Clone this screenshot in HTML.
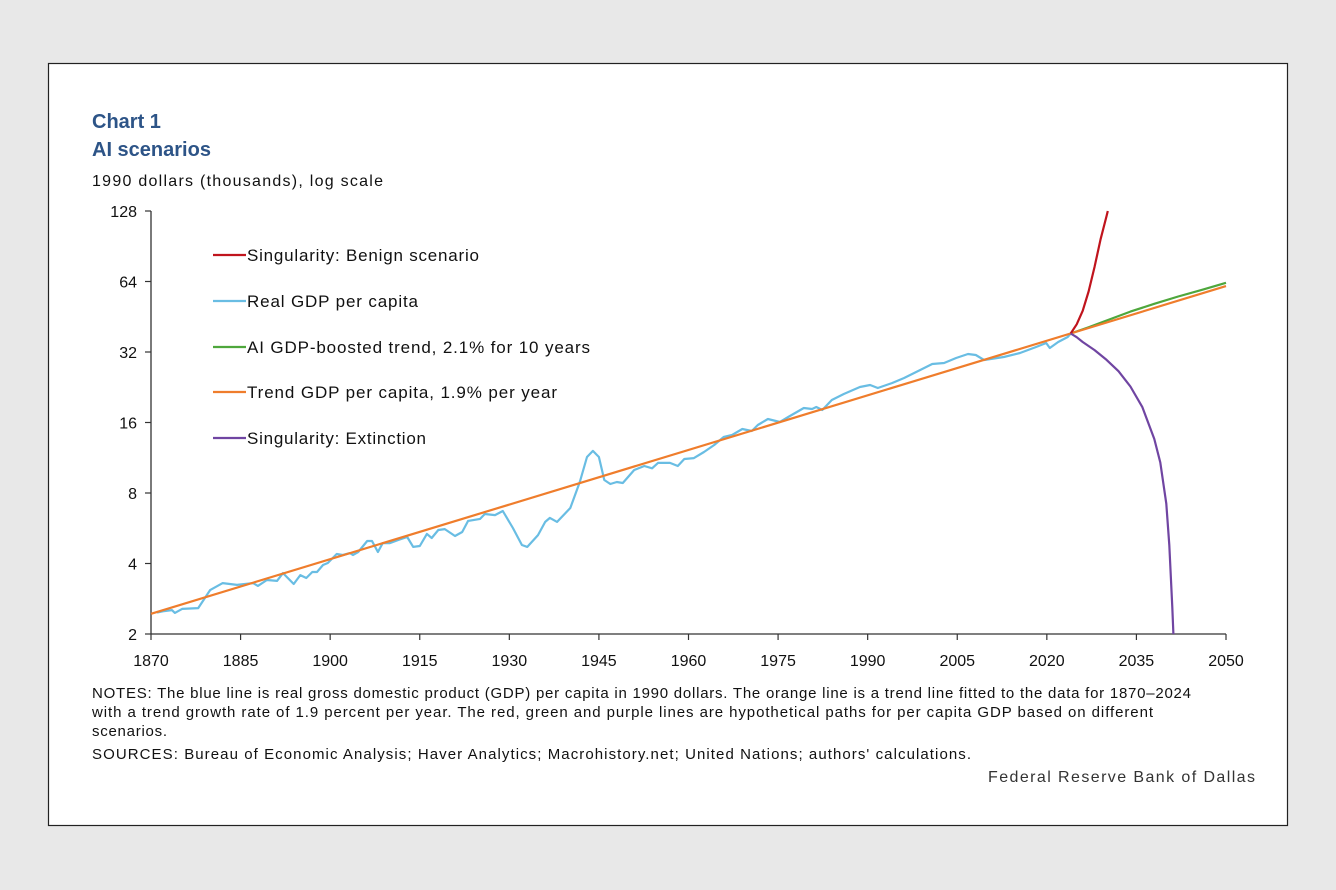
<!DOCTYPE html>
<html><head><meta charset="utf-8"><style>
html,body{margin:0;padding:0;background:#e8e8e8;}
svg{display:block;font-family:"Liberation Sans",Arial,sans-serif;}
</style></head><body>
<svg id="c" width="1336" height="890" viewBox="0 0 1336 890">
<rect x="0" y="0" width="1336" height="890" fill="#e8e8e8"/>
<rect x="48.5" y="63.5" width="1239" height="762" fill="#fff" stroke="#222" stroke-width="1.2"/>
<text x="92" y="128" font-size="20" font-weight="bold" fill="#2d5487">Chart 1</text>
<text x="92" y="156" font-size="20" font-weight="bold" fill="#2d5487">AI scenarios</text>
<text x="92" y="186" font-size="16" fill="#111" textLength="291" lengthAdjust="spacing">1990 dollars (thousands),  log scale</text>
<g id="plot"></g>
<g id="legend"></g>
<g font-size="15" fill="#111">
<text x="92" y="698" textLength="1099" lengthAdjust="spacing">NOTES: The blue line is real gross domestic product (GDP) per capita in 1990 dollars. The orange line is a trend line fitted to the data for 1870–2024</text>
<text x="92" y="717" textLength="1061" lengthAdjust="spacing">with a trend growth rate of 1.9 percent per year. The red, green and purple lines are hypothetical paths for per capita GDP based on different</text>
<text x="92" y="736" textLength="75" lengthAdjust="spacing">scenarios.</text>
<text x="92" y="759" textLength="879" lengthAdjust="spacing">SOURCES: Bureau of Economic Analysis; Haver Analytics; Macrohistory.net; United Nations; authors' calculations.</text>
</g>
<text x="988" y="782" font-size="16" fill="#333" textLength="267" lengthAdjust="spacing">Federal Reserve Bank of Dallas</text>
</svg>
<script>
const xTicks=[1870,1885,1900,1915,1930,1945,1960,1975,1990,2005,2020,2035,2050];
const yTicks=[2,4,8,16,32,64,128];
const gdpYears=[1871,1872,1873.5,1874,1875.2,1877.9,1879.9,1882,1884.4,1887.1,1887.9,1889.4,1891.1,1892.1,1893.9,1895,1896,1897,1897.8,1898.8,1899.6,1901.1,1902.1,1903.3,1903.8,1904.7,1906.2,1907,1908,1908.8,1910,1911.4,1912.9,1913.9,1915,1916.2,1917,1918.1,1919.2,1920.9,1922.1,1923.1,1925.1,1925.9,1927.6,1928.9,1930.6,1932.1,1933,1934.8,1936,1936.8,1938,1940.2,1941.8,1943,1944,1945,1945.9,1946.9,1948,1949,1950.9,1952.6,1953.9,1954.9,1956.9,1958.2,1959.3,1960.9,1962.6,1964.3,1965.9,1967.3,1969,1970.6,1971.6,1973.3,1975.3,1976.7,1979.3,1980.7,1981.4,1982.4,1984,1986,1988.7,1990.4,1991.7,1994.1,1996.1,1998.8,2000.8,2002.8,2004.8,2006.8,2008.1,2009.5,2012.8,2015.5,2018.2,2019.9,2020.5,2021.9,2023.5,2024];
const gdpValues=[2.47,2.5,2.53,2.46,2.56,2.58,3.08,3.30,3.24,3.30,3.21,3.40,3.37,3.64,3.27,3.57,3.47,3.68,3.68,3.94,4.02,4.39,4.35,4.43,4.35,4.48,4.99,4.99,4.48,4.89,4.89,5.04,5.19,4.71,4.75,5.35,5.14,5.56,5.61,5.24,5.45,6.08,6.20,6.51,6.44,6.70,5.67,4.80,4.71,5.29,6.02,6.26,6.02,6.90,8.91,11.4,12.1,11.4,9.09,8.74,8.91,8.83,10.03,10.43,10.2,10.75,10.75,10.43,11.18,11.28,11.97,12.83,13.87,14.15,15.01,14.72,15.61,16.56,16.08,16.89,18.45,18.27,18.63,18.09,19.96,21.17,22.69,23.13,22.46,23.59,24.78,26.81,28.44,28.72,30.17,31.38,31.07,29.58,30.47,31.69,33.62,34.97,33.29,35.31,37.09,38.4];
const trendYears=[1870,2050];
const trendValues=[2.44,61.2];
const aiYears=[2024,2027,2030,2034,2038,2042,2046,2050];
const aiValues=[38.4,40.8,43.6,47.6,51.4,55.2,59.0,63.2];
const benignYears=[2024,2025,2026,2027,2028,2029,2030,2030.2];
const benignValues=[38.4,42,48,58,74,97,122,128];
const extinctYears=[2024,2025,2026,2028,2030,2032,2034,2036,2038,2039,2040,2040.5,2041,2041.2];
const extinctValues=[38.4,37,35.3,32.6,29.6,26.5,22.8,18.6,13.6,10.8,7.2,4.8,2.6,2];

const NS='http://www.w3.org/2000/svg';
const X0=151,X1=1226,Y0=634,Y1=211;
function xs(yr){return X0+(yr-1870)/(2050-1870)*(X1-X0);}
function ys(v){return Y0-(Math.log2(v)-1)/6*(Y0-Y1);}
const plot=document.getElementById('plot');
const legend=document.getElementById('legend');
function mk(tag,attrs,parent){const e=document.createElementNS(NS,tag);for(const k in attrs)e.setAttribute(k,attrs[k]);parent.appendChild(e);return e;}

let ax=mk('line',{x1:X0,y1:Y1,x2:X0,y2:Y0,stroke:'#333','stroke-width':1.3},plot);


let bx=mk('line',{x1:X0,y1:Y0,x2:X1,y2:Y0,stroke:'#333','stroke-width':1.3},plot);


yTicks.forEach(v=>{
  const y=ys(v);
  const t=mk('line',{x1:X0-6,y1:y,x2:X0,y2:y,stroke:'#333','stroke-width':1.2},plot);
  
  
  const l=mk('text',{x:X0-14,y:y+6,'font-size':16,'text-anchor':'end',fill:'#111'},plot);
  l.textContent=v;
  
  
});
xTicks.forEach(yr=>{
  const x=xs(yr);
  const t=mk('line',{x1:x,y1:Y0,x2:x,y2:Y0+6,stroke:'#333','stroke-width':1.2},plot);
  
  
  const l=mk('text',{x:x,y:Y0+32,'font-size':16,'text-anchor':'middle',fill:'#111'},plot);
  l.textContent=yr;
  
  
});
function series(years,vals,color,name){
  const d=years.map((yr,i)=>(i?'L':'M')+xs(yr).toFixed(1)+' '+ys(vals[i]).toFixed(1)).join(' ');
  const p=mk('path',{d:d,fill:'none',stroke:color,'stroke-width':2.2,'stroke-linejoin':'round'},plot);
  
  
}
series(gdpYears,gdpValues,'#69bde3','real-gdp-line');
series(aiYears,aiValues,'#4ea73c','ai-boosted-line');
series(trendYears,trendValues,'#ef7d2c','trend-line');
series(benignYears,benignValues,'#c0141d','benign-line');
series(extinctYears,extinctValues,'#7045a2','extinction-line');

const legLabels=['Singularity: Benign scenario','Real GDP per capita','AI GDP-boosted trend, 2.1% for 10 years','Trend GDP per capita, 1.9% per year','Singularity: Extinction'];
const legColors=['#c0141d','#69bde3','#4ea73c','#ef7d2c','#7045a2'];
const legWidths=[232,171,343,310,179];
const legY=[255,301,347,392,438];
legLabels.forEach((lab,i)=>{
  const g=mk('g',{},legend);
  
  
  mk('line',{x1:213,y1:legY[i],x2:246,y2:legY[i],stroke:legColors[i],'stroke-width':2.2},g);
  const t=mk('text',{x:247,y:legY[i]+6,'font-size':17,fill:'#111',textLength:legWidths[i],lengthAdjust:'spacing'},g);
  t.textContent=lab;
});
</script>
</body></html>
